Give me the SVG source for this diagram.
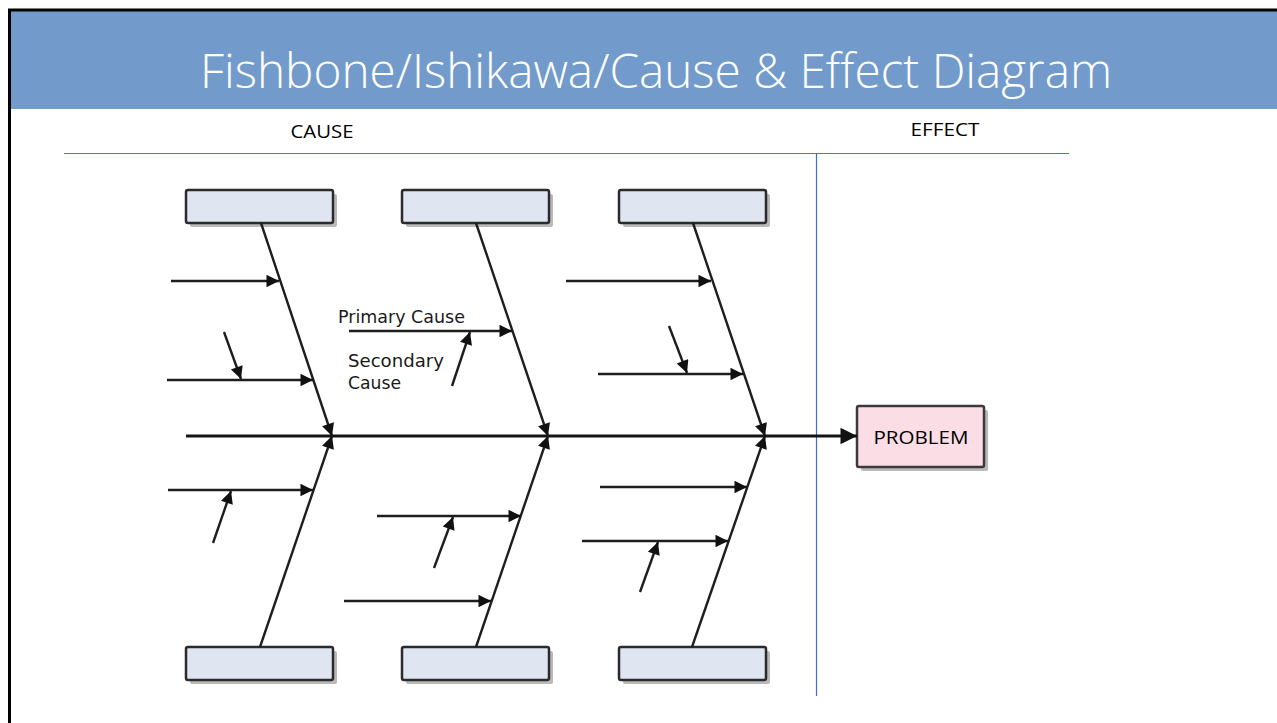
<svg xmlns="http://www.w3.org/2000/svg" width="1277" height="723" viewBox="0 0 1277 723">
  <style>
    .bone { stroke: #1e1e1e; stroke-width: 2.4; fill: none; }
    .spine { stroke: #141414; stroke-width: 3; fill: none; }
    .cat { fill: #e0e5f2; stroke: #2b2b2b; stroke-width: 2.5; }
    .shadow { fill: #b9b9b9; }
    .lbl { font-family: "Open Sans", "Liberation Sans", sans-serif; font-size: 18px; fill: #000; }
    .note { font-family: "DejaVu Sans", "Liberation Sans", sans-serif; font-size: 18px; fill: #1a1a1a; }
  </style>
  <defs>
    <marker id="head" viewBox="0 0 10 10" refX="10" refY="5" markerWidth="7" markerHeight="5.2" markerUnits="strokeWidth" orient="auto">
      <path d="M0,0 L10,5 L0,10 z" fill="#111"/>
    </marker>
    <marker id="headBig" viewBox="0 0 10 10" refX="10" refY="5" markerWidth="6.5" markerHeight="5.5" markerUnits="strokeWidth" orient="auto">
      <path d="M0,0 L10,5 L0,10 z" fill="#111"/>
    </marker>
  </defs>

  <rect x="0" y="0" width="1277" height="723" fill="#ffffff"/>

  <!-- slide frame and title bar -->
  <g id="header">
    <rect x="11" y="11" width="1266" height="98" fill="#729bcb"/>
    <line x1="8" y1="10" x2="1277" y2="10" stroke="#000" stroke-width="3"/>
    <line x1="9.5" y1="9" x2="9.5" y2="723" stroke="#000" stroke-width="3"/>
    <text x="656" y="88" text-anchor="middle" font-family="'Open Sans', 'Liberation Sans', sans-serif" font-weight="300" font-size="47" fill="#ffffff" textLength="912" lengthAdjust="spacingAndGlyphs">Fishbone/Ishikawa/Cause &amp; Effect Diagram</text>
  </g>

  <!-- cause / effect headings and dividers -->
  <g id="headings">
    <text class="lbl" x="322" y="138" text-anchor="middle" textLength="63" lengthAdjust="spacingAndGlyphs">CAUSE</text>
    <text class="lbl" x="945" y="136" text-anchor="middle" textLength="69" lengthAdjust="spacingAndGlyphs">EFFECT</text>
    <line x1="64" y1="153.5" x2="1069" y2="153.5" stroke="#5577aa" stroke-width="1.2"/>
    <line x1="816.5" y1="153" x2="816.5" y2="696" stroke="#3a6fd0" stroke-width="1.2"/>
  </g>

  <!-- category boxes -->
  <g id="cat-top-1">
    <rect class="shadow" x="190" y="194" width="147" height="33" rx="2"/>
    <rect class="cat" x="186" y="190" width="147" height="33" rx="2"/>
  </g>
  <g id="cat-top-2">
    <rect class="shadow" x="406" y="194" width="147" height="33" rx="2"/>
    <rect class="cat" x="402" y="190" width="147" height="33" rx="2"/>
  </g>
  <g id="cat-top-3">
    <rect class="shadow" x="623" y="194" width="147" height="33" rx="2"/>
    <rect class="cat" x="619" y="190" width="147" height="33" rx="2"/>
  </g>
  <g id="cat-bottom-1">
    <rect class="shadow" x="190" y="651" width="147" height="33" rx="2"/>
    <rect class="cat" x="186" y="647" width="147" height="33" rx="2"/>
  </g>
  <g id="cat-bottom-2">
    <rect class="shadow" x="406" y="651" width="147" height="33" rx="2"/>
    <rect class="cat" x="402" y="647" width="147" height="33" rx="2"/>
  </g>
  <g id="cat-bottom-3">
    <rect class="shadow" x="623" y="651" width="147" height="33" rx="2"/>
    <rect class="cat" x="619" y="647" width="147" height="33" rx="2"/>
  </g>

  <!-- effect box -->
  <g id="problem">
    <rect class="shadow" x="861" y="410" width="127" height="61" rx="2"/>
    <rect x="857" y="406" width="127" height="61" rx="2" fill="#fbdde6" stroke="#3a3a3a" stroke-width="2.5"/>
    <text class="lbl" x="921" y="443.5" text-anchor="middle" textLength="95" lengthAdjust="spacingAndGlyphs">PROBLEM</text>
  </g>

  <!-- example labels -->
  <g id="legend">
    <text class="note" x="338" y="323" textLength="127" lengthAdjust="spacingAndGlyphs">Primary Cause</text>
    <text class="note" x="348" y="367" textLength="96" lengthAdjust="spacingAndGlyphs">Secondary</text>
    <text class="note" x="348" y="389" textLength="53" lengthAdjust="spacingAndGlyphs">Cause</text>
  </g>

  <!-- spine, bones and cause arrows -->
  <g id="connectors">
    <line class="spine" x1="186" y1="436" x2="857" y2="436" marker-end="url(#headBig)"/>

    <!-- main bones -->
    <line class="bone" x1="261" y1="223" x2="332" y2="436" marker-end="url(#head)"/>
    <line class="bone" x1="476" y1="223" x2="548" y2="436" marker-end="url(#head)"/>
    <line class="bone" x1="693" y1="223" x2="765" y2="436" marker-end="url(#head)"/>
    <line class="bone" x1="260" y1="647" x2="332" y2="436" marker-end="url(#head)"/>
    <line class="bone" x1="476" y1="647" x2="548" y2="436" marker-end="url(#head)"/>
    <line class="bone" x1="692" y1="647" x2="765" y2="436" marker-end="url(#head)"/>

    <!-- primary causes -->
    <line class="bone" x1="171" y1="281" x2="279" y2="281" marker-end="url(#head)"/>
    <line class="bone" x1="167" y1="380" x2="313" y2="380" marker-end="url(#head)"/>
    <line class="bone" x1="168" y1="490" x2="313" y2="490" marker-end="url(#head)"/>
    <line class="bone" x1="349" y1="331" x2="512" y2="331" marker-end="url(#head)"/>
    <line class="bone" x1="377" y1="516" x2="521" y2="516" marker-end="url(#head)"/>
    <line class="bone" x1="344" y1="601" x2="491" y2="601" marker-end="url(#head)"/>
    <line class="bone" x1="566" y1="281" x2="711" y2="281" marker-end="url(#head)"/>
    <line class="bone" x1="598" y1="374" x2="743" y2="374" marker-end="url(#head)"/>
    <line class="bone" x1="600" y1="487" x2="747" y2="487" marker-end="url(#head)"/>
    <line class="bone" x1="582" y1="541" x2="728" y2="541" marker-end="url(#head)"/>

    <!-- secondary causes -->
    <line class="bone" x1="224" y1="332" x2="241" y2="379" marker-end="url(#head)"/>
    <line class="bone" x1="213" y1="543" x2="231" y2="491" marker-end="url(#head)"/>
    <line class="bone" x1="452" y1="386" x2="470" y2="332" marker-end="url(#head)"/>
    <line class="bone" x1="434" y1="568" x2="453" y2="517" marker-end="url(#head)"/>
    <line class="bone" x1="669" y1="326" x2="687" y2="373" marker-end="url(#head)"/>
    <line class="bone" x1="640" y1="592" x2="658" y2="542" marker-end="url(#head)"/>
  </g>
</svg>
